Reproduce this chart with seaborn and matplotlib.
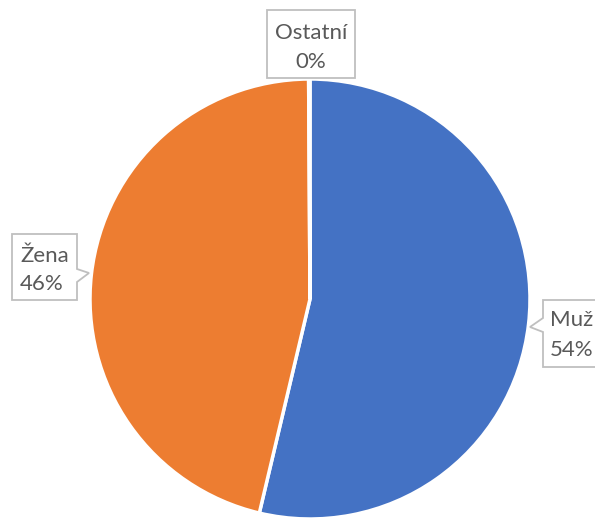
import numpy as np
import seaborn as sns
import matplotlib.pyplot as plt
from matplotlib.patches import Polygon

# data
categories = ['Muž', 'Žena', 'Ostatní']
shares = [53.7, 46.2, 0.1]
shown = ['54%', '46%', '0%']

# set colors
blue = '#4472C4'
orange = '#ED7D31'
grey = '#A6A6A6'

sns.set_style('white')
plt.rcParams['font.family'] = ['Lato', 'DejaVu Sans']

W, H = 595, 518
fig = plt.figure(figsize=(W / 100, H / 100), dpi=100)
ax = fig.add_axes([0, 0, 1, 1])

# pie starts at the top and runs clockwise, drawn in pixel units
ax.pie(shares, colors=[blue, orange, grey], startangle=90, counterclock=False,
       radius=220, center=(310, H - 299),
       wedgeprops=dict(edgecolor='white', linewidth=2.5))
ax.set_xlim(0, W)
ax.set_ylim(0, H)
ax.set_aspect('equal')
ax.axis('off')

# callout boxes (pixel coords, y measured from top)
def callout(pts):
    pts = [(x, H - y) for x, y in pts]
    ax.add_patch(Polygon(pts, closed=True, facecolor='white', edgecolor='#BFBFBF', lw=1.3, zorder=5))

callout([(543, 300), (600, 300), (600, 367), (543, 367), (543, 332), (530, 327), (543, 318)])
callout([(12, 234), (77, 234), (77, 269), (89, 273), (77, 282), (77, 300), (12, 300)])
callout([(267, 10), (355, 10), (355, 78), (267, 78)])

txt = dict(color='#595959', fontsize=16, va='center', zorder=6)
ax.text(550, H - 320, categories[0], ha='left', **txt)
ax.text(550, H - 350, shown[0], ha='left', **txt)
ax.text(20, H - 256, categories[1], ha='left', **txt)
ax.text(20, H - 284, shown[1], ha='left', **txt)
ax.text(311, H - 33, categories[2], ha='center', **txt)
ax.text(311, H - 62, shown[2], ha='center', **txt)

fig.savefig('out.png', dpi=100)
